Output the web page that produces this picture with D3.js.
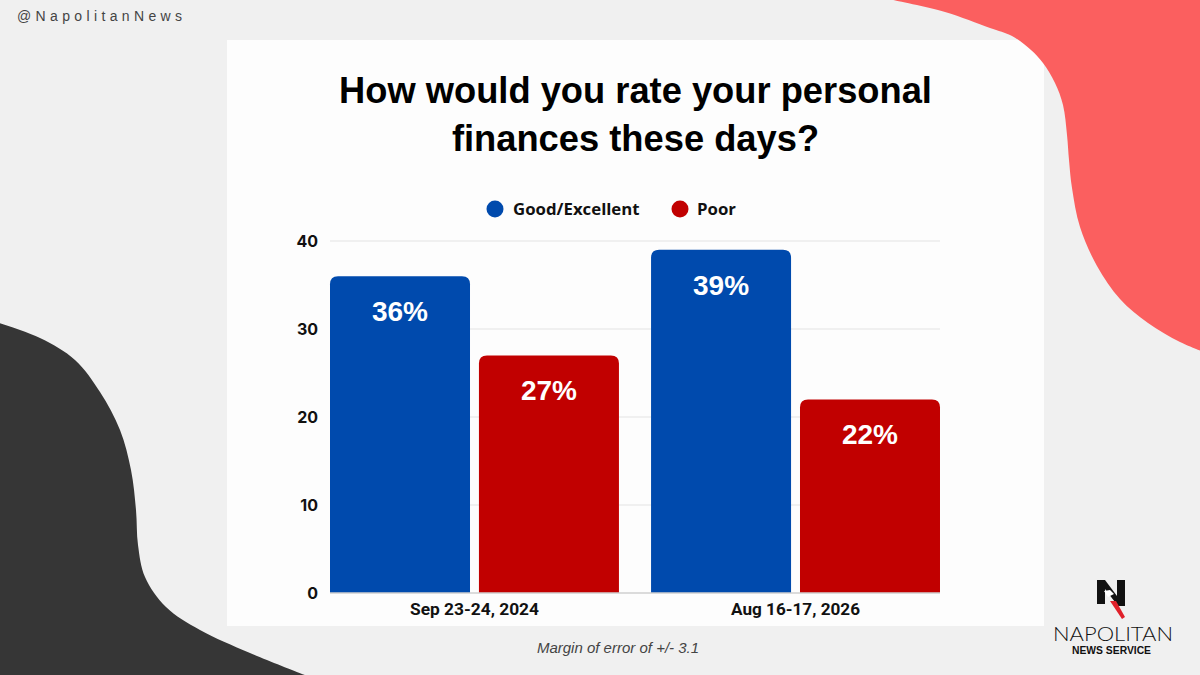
<!DOCTYPE html>
<html><head><meta charset="utf-8">
<script src="https://cdn.jsdelivr.net/npm/d3@7"></script>
<style>html,body{margin:0;padding:0;background:#f0f0f0;}svg{display:block;}</style>
</head><body>
<script>
const categories = ["Sep 23-24, 2024", "Aug 16-17, 2026"];
const seriesNames = ["Good/Excellent", "Poor"];
const goodValues = [36, 39];
const poorValues = [27, 22];
const yTicks = [0, 10, 20, 30, 40];
const seriesColors = ["#004aad", "#c10000"];
const titleLines = ["How would you rate your personal", "finances these days?"];

const W = 1200, H = 675;
const svg = d3.select("body").append("svg").attr("width", W).attr("height", H);
svg.append("rect").attr("width", W).attr("height", H).attr("fill", "#f0f0f0");

const smooth = d3.line().curve(d3.curveCatmullRom.alpha(0.5));
const darkPts = [[-4,322],[40,338],[75,360],[100,392],[120,430],[131,470],[136,510],[138,545],[145,577],[166,607],[200,630],[250,653],[310,677]];
svg.append("path").attr("d", smooth(darkPts) + "L-4,677Z").attr("fill", "#363636");

// card
const card = {x: 227, y: 40, w: 817, h: 586};
svg.append("rect").attr("x", card.x).attr("y", card.y).attr("width", card.w).attr("height", card.h).attr("fill", "#fdfdfd");

// coral shape (drawn over the card corner)
const coralPts = [[893,0],[945,12],[990,28],[1012,36],[1031,50],[1043,63],[1055,83],[1063,105],[1067,135],[1069,160],[1072,188],[1080,227],[1097,266],[1120,299],[1148,323],[1180,342],[1204,352]];
svg.append("path").attr("d", smooth(coralPts) + "L1204,-4L893,-4Z").attr("fill", "#fb5f5f");

// handle
svg.append("text").attr("x", 17).attr("y", 21).attr("textLength", 165).attr("lengthAdjust", "spacing")
  .attr("font-family", "Liberation Sans, Arial, sans-serif").attr("font-size", 14).attr("fill", "#444")
  .text("@NapolitanNews");

// title
const cx = card.x + card.w / 2;
svg.append("g").selectAll("text").data(titleLines).join("text")
  .attr("x", cx).attr("y", (d, i) => 103 + i * 48)
  .attr("text-anchor", "middle").attr("font-family", "Liberation Sans, Arial, sans-serif")
  .attr("font-weight", "bold").attr("font-size", 36.3).attr("fill", "#000").text(d => d);

// scales
const x0 = d3.scaleBand().domain(categories).range([330, 940]).paddingInner(0.1).paddingOuter(0);
const x1 = d3.scaleBand().domain(seriesNames).range([0, x0.bandwidth()]).paddingInner(0.06);
const y = d3.scaleLinear().domain([0, 40]).range([593, 241]);
const color = d3.scaleOrdinal().domain(seriesNames).range(seriesColors);

// grid
svg.append("g").selectAll("line").data(yTicks.filter(t => t > 0)).join("line")
  .attr("x1", 330).attr("x2", 940).attr("y1", d => y(d)).attr("y2", d => y(d))
  .attr("stroke", "#e3e3e3").attr("stroke-width", 1);

// y axis labels
const yAxis = d3.axisLeft(y).tickValues(yTicks).tickSize(0).tickPadding(12);
const yg = svg.append("g").attr("transform", "translate(330,0)").call(yAxis);
yg.select(".domain").remove();
yg.selectAll("text").attr("font-family", "Inter, Noto Sans, sans-serif").attr("font-weight", 700)
  .attr("font-size", 16).attr("fill", "#111");

// data rows
const rows = categories.map((c, i) => ({cat: c, vals: [goodValues[i], poorValues[i]]}));
const r = 8;
function topRounded(x, yTop, w, yBot) {
  return `M${x},${yBot}L${x},${yTop + r}Q${x},${yTop} ${x + r},${yTop}L${x + w - r},${yTop}Q${x + w},${yTop} ${x + w},${yTop + r}L${x + w},${yBot}Z`;
}
const groups = svg.append("g").selectAll("g").data(rows).join("g")
  .attr("transform", d => `translate(${x0(d.cat)},0)`);
const bars = groups.selectAll("g").data(d => d.vals.map((v, j) => ({name: seriesNames[j], v}))).join("g");
bars.append("path")
  .attr("d", d => topRounded(x1(d.name), y(d.v), x1.bandwidth(), y(0)))
  .attr("fill", d => color(d.name));
bars.append("text")
  .attr("x", d => x1(d.name) + x1.bandwidth() / 2).attr("y", d => y(d.v) + 45)
  .attr("text-anchor", "middle").attr("font-family", "Liberation Sans, Arial, sans-serif")
  .attr("font-weight", "bold").attr("font-size", 28).attr("fill", "#fff").text(d => d.v + "%");

// baseline
svg.append("line").attr("x1", 330).attr("x2", 940).attr("y1", y(0)).attr("y2", y(0))
  .attr("stroke", "#cfcfcf").attr("stroke-width", 1.5);

// x axis
const xAxis = d3.axisBottom(x0).tickSize(0).tickPadding(10);
const xg = svg.append("g").attr("transform", `translate(0,${y(0)})`).call(xAxis);
xg.select(".domain").remove();
xg.selectAll("text").attr("font-family", "Roboto, Liberation Sans, sans-serif").attr("font-weight", 700)
  .attr("font-size", 17).attr("fill", "#111").attr("dy", "0.71em").attr("textLength", 129).attr("lengthAdjust", "spacingAndGlyphs");

// legend
const legendItems = [{name: seriesNames[0], cx: 495, tx: 513}, {name: seriesNames[1], cx: 680, tx: 697}];
const lg = svg.append("g").selectAll("g").data(legendItems).join("g");
lg.append("circle").attr("cx", d => d.cx).attr("cy", 209).attr("r", 8.5).attr("fill", d => color(d.name));
lg.append("text").attr("x", d => d.tx).attr("y", 215).attr("font-family", "Open Sans, Noto Sans, sans-serif")
  .attr("font-weight", 700).attr("font-size", 16.8).attr("fill", "#111").text(d => d.name);

// footnote
svg.append("text").attr("x", 618).attr("y", 653).attr("text-anchor", "middle")
  .attr("font-family", "Liberation Sans, Arial, sans-serif").attr("font-style", "italic")
  .attr("font-size", 15).attr("fill", "#444").text("Margin of error of +/- 3.1");

// logo
const logo = svg.append("g");
logo.append("path").attr("d", "M1097,580L1105,580L1117,596L1117,580L1125,580L1125,606L1118,606L1105,589L1105,604L1097,604Z").attr("fill", "#111");
logo.append("path").attr("d", "M1104,591L1110,590L1114,594L1108,597Z").attr("fill", "#fff");
logo.append("path").attr("d", "M1110,601L1116,601L1125,617L1122,619Z").attr("fill", "#e0202a");
logo.append("text").attr("x", 1053).attr("y", 641).attr("textLength", 120).attr("lengthAdjust", "spacingAndGlyphs")
  .attr("font-family", "Lato, Liberation Sans, sans-serif").attr("font-weight", 300).attr("font-size", 19)
  .attr("fill", "#111").text("NAPOLITAN");
logo.append("text").attr("x", 1072).attr("y", 654).attr("textLength", 79).attr("lengthAdjust", "spacingAndGlyphs")
  .attr("font-family", "Liberation Sans, Arial, sans-serif").attr("font-weight", 700).attr("font-size", 10)
  .attr("fill", "#111").text("NEWS SERVICE");
</script>
</body></html>
